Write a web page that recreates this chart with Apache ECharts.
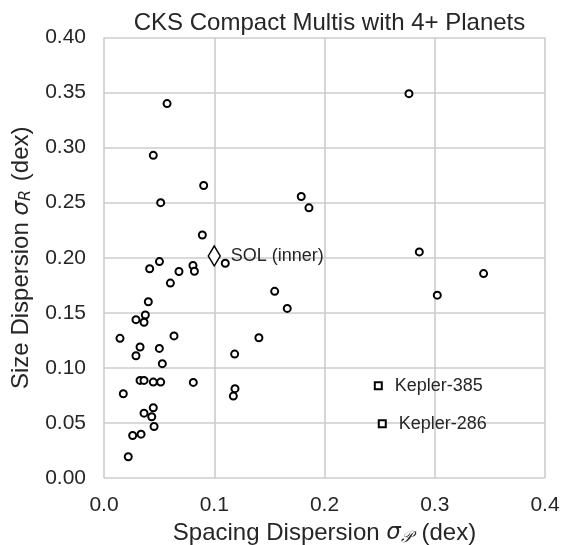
<!DOCTYPE html>
<html>
<head>
<meta charset="utf-8">
<script src="https://cdn.jsdelivr.net/npm/echarts@6/dist/echarts.min.js"></script>
<style>
    html, body { margin: 0; padding: 0; background: #fff; }
    #chart { width: 572px; height: 545px; }
</style>
</head>
<body>
<div id="chart"></div>
<script>
/** 间距离散度 (dex), CKS multis */
var spacingDisp = [
    0.0572, 0.0447, 0.0904, 0.0514, 0.0892, 0.110, 0.0503, 0.0414, 0.068, 0.0807,
    0.082, 0.0602, 0.0402, 0.0375, 0.029, 0.0363, 0.0145, 0.0635, 0.0327, 0.0502,
    0.029, 0.0529, 0.1185, 0.1405, 0.0327, 0.0363, 0.0447, 0.0514, 0.081, 0.0175,
    0.1188, 0.1173, 0.0447, 0.0363, 0.0433, 0.0454, 0.026, 0.0336, 0.022, 0.2766,
    0.1789, 0.1859, 0.286, 0.3443, 0.3023, 0.1548, 0.1662
];
/** 尺寸离散度 (dex) */
var sizeDisp = [
    0.340, 0.293, 0.2656, 0.250, 0.2207, 0.195, 0.1965, 0.190, 0.1875, 0.193,
    0.1877, 0.177, 0.160, 0.148, 0.1438, 0.1414, 0.1268, 0.129, 0.119, 0.1177,
    0.111, 0.1038, 0.1125, 0.1274, 0.0886, 0.0886, 0.0871, 0.0871, 0.0868, 0.0765,
    0.0811, 0.0744, 0.0638, 0.0589, 0.0556, 0.0468, 0.0386, 0.0398, 0.0193, 0.349,
    0.2556, 0.2453, 0.2053, 0.1856, 0.166, 0.1695, 0.154
];
/** 单独标注的系统 */
var keplerNames = ['Kepler-385', 'Kepler-286'];
var keplerSpacing = [0.2488, 0.2524];
var keplerSize = [0.0838, 0.0493];
var solName = 'SOL (inner)';
var solSpacing = [0.1];
var solSize = [0.2016];
/** 刻度 */
var xTicks = [0.0, 0.1, 0.2, 0.3, 0.4];
var yTicks = [0.00, 0.05, 0.10, 0.15, 0.20, 0.25, 0.30, 0.35, 0.40];

(function(win){
    var ink = '#262626';
    var gridColor = '#cccccc';
    var font = 'Liberation Sans, Arial, sans-serif';
    var mathFont = 'DejaVu Sans, sans-serif';

    function pairs(xs, ys, names){
        var out = [];
        for(var i=0,len=xs.length;i<len;i++)
        {
            var d = {value: [xs[i], ys[i]]};
            if(names) d.name = names[i];
            out.push(d);
        }
        return out;
    }

    var markStyle = {color: '#ffffff', borderColor: '#000000', borderWidth: 2, opacity: 1};
    var nameRich = {
        n: {fontSize: 24, color: ink, fontFamily: font},
        s: {fontSize: 23, color: ink, fontFamily: mathFont, fontStyle: 'italic'},
        sub: {fontSize: 16, color: ink, fontFamily: mathFont, fontStyle: 'italic', padding: [9, 2, 0, 0]},
        cal: {fontSize: 16, color: ink, fontFamily: 'DejaVu Serif, serif', fontStyle: 'italic', padding: [9, 2, 0, 0]}
    };

    var chart = echarts.init(document.getElementById('chart'), null, {renderer: 'canvas'});
    var options = {
        backgroundColor: '#ffffff',
        animation: false,
        title: {
            text: 'CKS Compact Multis with 4+ Planets',
            left: 324.5,
            textAlign: 'center',
            top: 6,
            textStyle: {fontSize: 24, fontWeight: 'normal', color: ink, fontFamily: font}
        },
        grid: {left: 104, right: 27, top: 37.5, bottom: 67, outerBoundsMode: 'none'},
        xAxis: {
            type: 'value',
            min: xTicks[0],
            max: xTicks[xTicks.length - 1],
            interval: xTicks[1] - xTicks[0],
            name: '{n|Spacing Dispersion }{s|σ}{cal|𝒫}{n| (dex)}',
            nameLocation: 'middle',
            nameGap: 41,
            nameTextStyle: {rich: nameRich},
            axisLine: {show: false},
            axisTick: {show: false},
            axisLabel: {
                fontSize: 21, color: ink, fontFamily: font, margin: 17,
                formatter: function(v){ return v.toFixed(1); }
            },
            splitLine: {show: true, lineStyle: {color: gridColor, width: 1.6}}
        },
        yAxis: {
            type: 'value',
            min: yTicks[0],
            max: yTicks[yTicks.length - 1],
            interval: yTicks[1] - yTicks[0],
            name: '{n|Size Dispersion }{s|σ}{sub|R}{n| (dex)}',
            nameLocation: 'middle',
            nameRotate: 90,
            nameGap: 65,
            nameTextStyle: {rich: nameRich},
            axisLine: {show: false},
            axisTick: {show: false},
            axisLabel: {
                fontSize: 21, color: ink, fontFamily: font, margin: 18,
                formatter: function(v){ return v.toFixed(2); }
            },
            splitLine: {show: true, lineStyle: {color: gridColor, width: 1.6}}
        },
        series: [
            {
                name: 'multis',
                type: 'scatter',
                symbol: 'circle',
                symbolSize: 7,
                itemStyle: markStyle,
                data: pairs(spacingDisp, sizeDisp)
            },
            {
                name: 'kepler',
                type: 'scatter',
                symbol: 'rect',
                symbolSize: 7,
                itemStyle: markStyle,
                label: {
                    show: true, position: 'right', distance: 12,
                    formatter: '{b}', fontSize: 18, color: ink, fontFamily: font
                },
                data: pairs(keplerSpacing, keplerSize, keplerNames)
            },
            {
                name: 'sol',
                type: 'scatter',
                symbol: 'diamond',
                symbolSize: [12, 20],
                itemStyle: {color: '#ffffff', borderColor: '#000000', borderWidth: 1.5, opacity: 1},
                label: {
                    show: true, position: 'right', distance: 10,
                    formatter: '{b}', fontSize: 18, color: ink, fontFamily: font
                },
                data: pairs(solSpacing, solSize, [solName])
            }
        ]
    };
    chart.setOption(options);
})(window);
</script>
</body>
</html>
